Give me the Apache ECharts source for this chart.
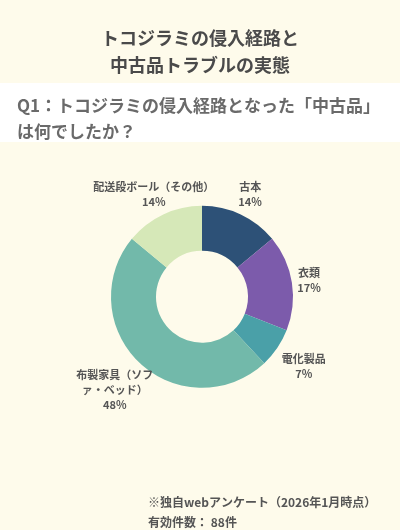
<!DOCTYPE html>
<html><head><meta charset="utf-8">
<script src="https://cdn.jsdelivr.net/npm/echarts@6/dist/echarts.min.js"></script>
<style>html,body{margin:0;padding:0;background:#fefbeb;}#c{width:400px;height:530px;}</style>
</head><body><div id="c"></div>
<script>
const categories = ['古本', '衣類', '電化製品', '布製家具（ソファ・ベッド）', '配送段ボール（その他）'];
const values = [14, 17, 7, 48, 14];
const colors = ['#2d5177', '#7c5bab', '#4aa0a8', '#72b9aa', '#d6e8b8'];
const titleLines = ['トコジラミの侵入経路と', '中古品トラブルの実態'];
const questionLines = ['Q1：トコジラミの侵入経路となった「中古品」', 'は何でしたか？'];
const footerLines = ['※独自webアンケート（2026年1月時点）', '有効件数： 88件'];

const FONT = '"Noto Sans CJK JP", "Noto Sans", sans-serif';
const CENTER = ['50.5%', '56%'];
const RADIUS = ['23%', '45.5%'];
const chart = echarts.init(document.getElementById('c'), null, { renderer: 'canvas' });
const total = values.reduce((a, b) => a + b, 0);

function labelLayout(params) {
  const W = chart.getWidth(), H = chart.getHeight();
  const cx = parseFloat(CENTER[0]) / 100 * W, cy = parseFloat(CENTER[1]) / 100 * H;
  const rOut = parseFloat(RADIUS[1]) / 100 * Math.min(W, H) / 2;
  const i = params.dataIndex;
  let before = 0;
  for (let k = 0; k < i; k++) before += values[k];
  const a = (before + values[i] / 2) / total * Math.PI * 2;
  const sx = Math.sin(a), sy = -Math.cos(a);
  const w = params.labelRect.width, h = params.labelRect.height;
  const ex = Math.abs(sx) > 1e-6 ? w / 2 / Math.abs(sx) : Infinity;
  const ey = Math.abs(sy) > 1e-6 ? h / 2 / Math.abs(sy) : Infinity;
  const R = rOut + 5.5 + Math.min(ex, ey);
  return { x: cx + R * sx, y: cy + R * sy, align: 'center', verticalAlign: 'middle' };
}

const option = {
  backgroundColor: '#fefbeb',
  animation: false,
  graphic: [{
    type: 'rect', z: 0,
    shape: { x: 0, y: 83, width: 400, height: 59 },
    style: { fill: '#ffffff' }
  }],
  title: [
    {
      text: titleLines.join('\n'), left: 'center', top: 20,
      textStyle: { fontFamily: FONT, fontSize: 18, fontWeight: 'bold', color: '#4a4a4a', lineHeight: 27 }
    },
    {
      text: questionLines.join('\n'), left: 12, top: 88,
      textStyle: { fontFamily: FONT, fontSize: 17, fontWeight: 'bold', color: '#6a6a6a', lineHeight: 26 }
    },
    {
      text: footerLines.join('\n'), left: 143, top: 487,
      textStyle: { fontFamily: FONT, fontSize: 12, fontWeight: 'bold', color: '#555555', lineHeight: 20 }
    }
  ],
  series: [{
    type: 'pie',
    center: CENTER,
    radius: RADIUS,
    startAngle: 90,
    clockwise: true,
    avoidLabelOverlap: false,
    emphasis: { disabled: true },
    itemStyle: { borderWidth: 0 },
    label: {
      show: true, position: 'outside',
      formatter: '{b}\n{c}%',
      fontFamily: FONT, fontSize: 11, fontWeight: 'bold', color: '#555555', lineHeight: 15
    },
    labelLine: { show: false, length: 10, length2: 0 },
    labelLayout: labelLayout,
    data: categories.map((n, i) => ({
      name: n, value: values[i],
      itemStyle: { color: colors[i] },
      label: n.length > 12 ? { width: 80, overflow: 'break' } : {}
    }))
  }]
};
chart.setOption(option);
</script>
</body></html>
